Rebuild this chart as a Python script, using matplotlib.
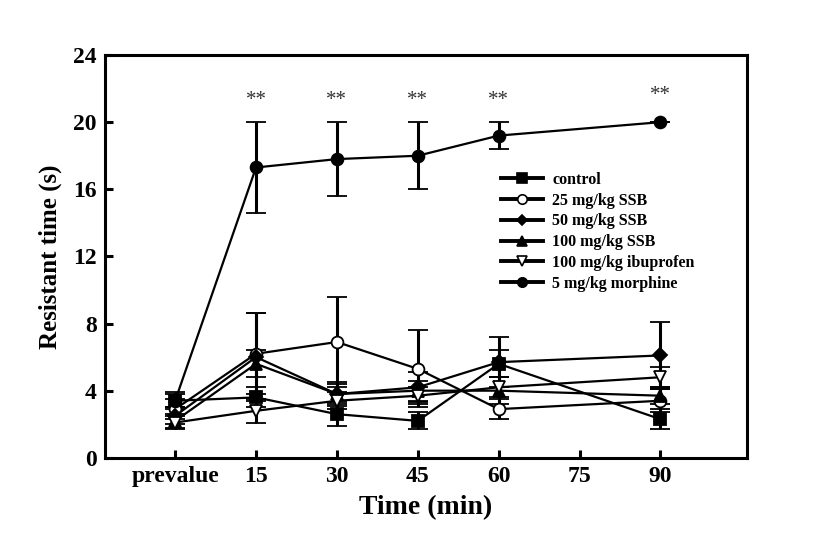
import matplotlib
matplotlib.use("Agg")
import matplotlib.pyplot as plt
from matplotlib.lines import Line2D

# time points (prevalue plotted at 0)
times = [0, 15, 30, 45, 60, 90]
xtick_pos = [0, 15, 30, 45, 60, 75, 90]
xtick_labels = ["prevalue", "15", "30", "45", "60", "75", "90"]

labels = ["control", "25 mg/kg SSB", "50 mg/kg SSB", "100 mg/kg SSB",
          "100 mg/kg ibuprofen", "5 mg/kg morphine"]

control = [3.4, 3.6, 2.6, 2.2, 5.6, 2.3]
control_err = [0.5, 0.6, 0.7, 0.5, 0.8, 0.6]
ssb25 = [2.9, 6.2, 6.9, 5.3, 2.9, 3.4]
ssb25_err = [0.6, 2.4, 2.7, 2.3, 0.6, 0.7]
ssb50 = [2.5, 6.0, 3.8, 4.2, 5.7, 6.1]
ssb50_err = [0.5, 2.6, 0.7, 0.9, 1.5, 2.0]
ssb100 = [2.2, 5.6, 3.8, 4.0, 4.0, 3.7]
ssb100_err = [0.4, 0.8, 0.6, 0.6, 0.8, 0.5]
ibu = [2.1, 2.8, 3.4, 3.7, 4.2, 4.8]
ibu_err = [0.4, 0.7, 0.5, 0.5, 0.6, 0.6]
morphine = [3.4, 17.3, 17.8, 18.0, 19.2, 20.0]
morphine_err = [0.4, 2.7, 2.2, 2.0, 0.8, 0.0]

star_times = [15, 30, 45, 60, 90]
star_y = [21.3, 21.3, 21.3, 21.3, 21.6]

series = [
    (control, control_err, "s", "black"),
    (ssb25, ssb25_err, "o", "white"),
    (ssb50, ssb50_err, "D", "black"),
    (ssb100, ssb100_err, "^", "black"),
    (ibu, ibu_err, "v", "white"),
    (morphine, morphine_err, "o", "black"),
]

plt.rcParams["font.family"] = ["Liberation Serif", "DejaVu Serif"]
plt.rcParams["font.weight"] = "bold"

fig = plt.figure(figsize=(8.27, 5.45), dpi=100)
ax = fig.add_axes([0.127, 0.16, 0.776, 0.739])

handles = []
for (vals, err, mk, fc), lab in zip(series, labels):
    ms = 7 if mk == "D" else 8.5
    ax.errorbar(times, vals, yerr=err, color="black", lw=1.6, marker=mk,
                markersize=ms, markerfacecolor=fc,
                markeredgecolor="black", markeredgewidth=1.3,
                elinewidth=2.2, capsize=7, capthick=2.2)
    # legend handle: plain line with a small marker, no error bars
    handles.append(Line2D([], [], color="black", lw=2.8, marker=mk,
                          markersize=ms * 0.8, markerfacecolor=fc,
                          markeredgecolor="black", markeredgewidth=1.2,
                          label=lab))

for t, y in zip(star_times, star_y):
    ax.text(t, y, "**", ha="center", va="center", fontsize=15,
            fontweight="normal", color="#333333")

ax.set_xlim(-13, 106)
ax.set_ylim(0, 24)
ax.set_yticks([0, 4, 8, 12, 16, 20, 24])
ax.set_xticks(xtick_pos)
ax.set_xticklabels(xtick_labels)
ax.tick_params(direction="in", width=2.2, length=6, labelsize=17, pad=6)
for s in ax.spines.values():
    s.set_linewidth(2.2)
ax.set_xlabel("Time (min)", fontsize=20, fontweight="bold", labelpad=6)
ax.set_ylabel("Resistant time (s)", fontsize=18, fontweight="bold", labelpad=8)

ax.legend(handles=handles, loc="upper left", bbox_to_anchor=(0.605, 0.73),
          frameon=False, fontsize=11.5, handlelength=2.6, labelspacing=0.3,
          handletextpad=0.6, borderpad=0.0)

fig.savefig("out.png", dpi=100)
